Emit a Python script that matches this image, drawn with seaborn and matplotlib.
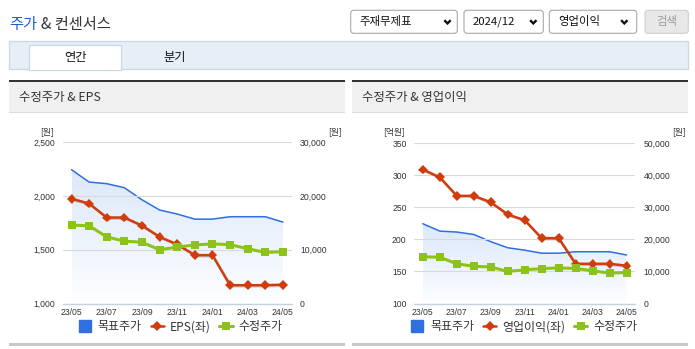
import numpy as np
import pandas as pd
import matplotlib
matplotlib.use("Agg")
import matplotlib.pyplot as plt
import matplotlib.patheffects as pe
from matplotlib.patches import Rectangle, FancyBboxPatch
from matplotlib.lines import Line2D
from matplotlib.colors import LinearSegmentedColormap
import seaborn as sns

# ---------------- data ----------------
months = ["23/05", "23/06", "23/07", "23/08", "23/09", "23/10", "23/11",
          "23/12", "24/01", "24/02", "24/03", "24/04", "24/05"]
target_price = [24900, 22600, 22300, 21550, 19300, 17400, 16650,
                15700, 15700, 16150, 16150, 16150, 15150]          # 목표주가 (원, right)
adj_price = [14600, 14450, 12400, 11600, 11400, 10000, 10500,
             10900, 11100, 10950, 10200, 9500, 9650]                # 수정주가 (원, right)
eps = [1975, 1930, 1800, 1800, 1725, 1620, 1550,
       1450, 1450, 1170, 1170, 1170, 1175]                          # EPS (원, left)
op_income = [309, 297, 268, 268, 258, 239, 230,
             202, 202, 162, 162, 162, 159]                          # 영업이익 (억원, left)

eps_left_ticks = [1000, 1500, 2000, 2500]
eps_right_ticks = [0, 10000, 20000, 30000]
op_left_ticks = [100, 150, 200, 250, 300, 350]
op_right_ticks = [0, 10000, 20000, 30000, 40000, 50000]

legend_labels_eps = ["목표주가", "EPS(좌)", "수정주가"]
legend_labels_op = ["목표주가", "영업이익(좌)", "수정주가"]

# ---------------- style ----------------
sns.set_theme(style="white")
plt.rcParams['font.family'] = ['Noto Sans CJK KR', 'DejaVu Sans']

BLUE = "#2f6fe0"
RED = "#d03c0c"
GREEN = "#8cc21a"
GRID = "#d9d9d9"
AXIS = "#c3d1e3"
TXT = "#333333"
NUM_FONT = "Liberation Sans"

W, H = 695, 349
fig = plt.figure(figsize=(W / 100, H / 100), dpi=100)
fig.patch.set_facecolor("white")

# background "page" axes in pixel coordinates
bg = fig.add_axes([0, 0, 1, 1])
bg.set_xlim(0, W)
bg.set_ylim(H, 0)
bg.axis("off")
bg.set_zorder(-10)

# title (two colours, chained so they never overlap)
t1 = bg.text(9, 25, "주가", color="#1f5fd6", fontsize=11, ha="left", va="center")
bg.annotate("& 컨센서스", xy=(1, 0.5), xycoords=t1, xytext=(4, 0), textcoords="offset pixels",
            color=TXT, fontsize=11, ha="left", va="center")

# dropdowns
def dropdown(x0, x1, text, chev_x):
    bg.add_patch(FancyBboxPatch((x0, 10.3), x1 - x0, 23, boxstyle="round,pad=0,rounding_size=3",
                                facecolor="white", edgecolor="#a9a9a9", lw=0.8))
    bg.text(x0 + 9, 22, text, fontsize=8.2, color="#111", ha="left", va="center")
    bg.plot([chev_x - 3.2, chev_x, chev_x + 3.2], [20.2, 23.4, 20.2], color="#111", lw=1.7,
            solid_capstyle="butt", solid_joinstyle="miter")

dropdown(350.7, 457.3, "주재무제표", 447.5)
dropdown(464.0, 543.3, "2024/12", 533.3)
dropdown(549.3, 636.7, "영업이익", 624.3)
bg.add_patch(FancyBboxPatch((645, 10.3), 43.3, 23, boxstyle="round,pad=0,rounding_size=3",
                            facecolor="#e8e8e8", edgecolor="#cfcfcf", lw=0.8))
bg.text(666.6, 21.8, "검색", fontsize=8.2, color="#9a9a9a", ha="center", va="center")

# tab bar
bg.add_patch(Rectangle((9, 40.7), 679.3, 28.6, facecolor="#e8eef8", edgecolor="#cbd6e6", lw=0.9))
bg.add_patch(Rectangle((29, 45), 92, 24.5, facecolor="white", edgecolor="#cbd6e6", lw=0.9))
bg.add_patch(Rectangle((29.6, 67.8), 90.8, 2.2, facecolor="white", edgecolor="none"))
bg.text(75, 57, "연간", fontsize=8.8, color="#111", ha="center", va="center")
bg.text(175, 57, "분기", fontsize=8.8, color="#111", ha="center", va="center")

# panel headers and bottoms
for x0, title in [(9, "수정주가 & EPS"), (352.3, "수정주가 & 영업이익")]:
    w = 336
    bg.add_patch(Rectangle((x0, 79.8), w, 2.4, facecolor="#333333", edgecolor="none"))
    bg.add_patch(Rectangle((x0, 82.2), w, 29.8, facecolor="#f0f0f0", edgecolor="none"))
    bg.add_patch(Rectangle((x0, 111.6), w, 1.0, facecolor="#dedede", edgecolor="none"))
    bg.text(x0 + 10.2, 98, title, fontsize=8.9, color=TXT, ha="left", va="center")
    bg.add_patch(Rectangle((x0, 343.3), w, 2.2, facecolor="#c8c8c8", edgecolor="none"))

grad_cmap = LinearSegmentedColormap.from_list("g", ["#fdfeff", "#dce8f9"])


def px_axes(x0, x1, ytop, ybot):
    return fig.add_axes([x0 / W, 1 - ybot / H, (x1 - x0) / W, (ybot - ytop) / H])


def fmt(v):
    return f"{v:,}"


def draw_chart(rect, left_vals, left_ticks, right_ticks, labels, unit_left, unit_pos, legend_cx):
    ax = px_axes(*rect)
    ax2 = ax.twinx()
    ax3 = ax.twinx()
    ax2.set_zorder(0)
    ax.set_zorder(1)
    ax3.set_zorder(2)
    ax.patch.set_visible(False)
    ax3.patch.set_visible(False)

    x = np.arange(len(months))
    df = pd.DataFrame({"x": x, "target": target_price, "adj": adj_price, "left": left_vals})

    # target price area with gradient
    poly = ax2.fill_between(df["x"], df["target"], 0, facecolor="none", edgecolor="none")
    grad = np.linspace(0, 1, 256).reshape(-1, 1)
    im = ax2.imshow(grad, extent=[0, len(months) - 1, 0, max(target_price)], origin="lower",
                    aspect="auto", cmap=grad_cmap, zorder=1)
    im.set_clip_path(poly.get_paths()[0], transform=ax2.transData)
    sns.lineplot(data=df, x="x", y="target", ax=ax2, color=BLUE, lw=1.1, zorder=3)

    # left-axis series
    sns.lineplot(data=df, x="x", y="left", ax=ax, color=RED, lw=1.8, marker="D",
                 markersize=5, markeredgewidth=0, zorder=3,
                 path_effects=[pe.SimpleLineShadow(offset=(0.8, -0.8), alpha=0.18,
                                                   shadow_color="black"), pe.Normal()])
    # adjusted price on top
    sns.lineplot(data=df, x="x", y="adj", ax=ax3, color=GREEN, lw=2.2, marker="s",
                 markersize=6.3, markeredgewidth=0, zorder=3)

    for a in (ax, ax2, ax3):
        a.set_xlabel("")
        a.set_ylabel("")
        for s in a.spines.values():
            s.set_visible(False)
        a.set_xlim(-0.5, len(months) - 0.5)

    ax.set_ylim(left_ticks[0], left_ticks[-1])
    ax2.set_ylim(right_ticks[0], right_ticks[-1])
    ax3.set_ylim(right_ticks[0], right_ticks[-1])
    ax3.yaxis.set_visible(False)

    ax.spines["bottom"].set_visible(True)
    ax.spines["bottom"].set_color(AXIS)
    ax.spines["bottom"].set_linewidth(1.0)

    ax.set_yticks(left_ticks, [fmt(v) for v in left_ticks], fontfamily=NUM_FONT)
    ax2.set_yticks(right_ticks, [fmt(v) for v in right_ticks], fontfamily=NUM_FONT)
    ax.set_xticks(range(0, len(months), 2), months[::2], fontfamily=NUM_FONT)
    ax.set_xticks(np.arange(-0.5, len(months), 1), minor=True)

    ax.tick_params(axis="y", length=0, pad=5.5, labelsize=6.2, labelcolor=TXT)
    ax2.tick_params(axis="y", length=0, pad=6, labelsize=6.2, labelcolor=TXT)
    ax.tick_params(axis="x", which="major", length=0, pad=3.2, labelsize=6.2, labelcolor=TXT)
    ax.tick_params(axis="x", which="minor", length=3, width=0.8, color=AXIS, direction="out")

    ax.grid(axis="y", color=GRID, lw=0.8)
    ax.grid(axis="x", visible=False)
    ax2.grid(False)
    ax3.grid(False)

    # unit labels
    bg.text(unit_pos[0], 131.7, unit_left, fontsize=6.3, color=TXT, ha="center", va="center")
    bg.text(unit_pos[1], 131.7, "[원]", fontsize=6.3, color=TXT, ha="center", va="center")

    handles = [
        Line2D([], [], marker="s", color=BLUE, linestyle="None", markersize=8),
        Line2D([], [], color=RED, lw=1.8, marker="D", markersize=5, markeredgewidth=0),
        Line2D([], [], color=GREEN, lw=2.2, marker="s", markersize=6, markeredgewidth=0),
    ]
    leg = fig.legend(handles, labels, loc="center", bbox_to_anchor=(legend_cx / W, 1 - 326.7 / H),
                     ncol=3, frameon=False, fontsize=8.6, handlelength=1.1, handletextpad=0.5,
                     columnspacing=0.75, borderaxespad=0, borderpad=0)
    for t in leg.get_texts():
        t.set_color(TXT)


draw_chart((62.7, 291.7, 142.3, 303.5), eps, eps_left_ticks, eps_right_ticks,
           legend_labels_eps, "[원]", (46.7, 335), 180.5)
draw_chart((414.3, 635.0, 143.3, 303.5), op_income, op_left_ticks, op_right_ticks,
           legend_labels_op, "[억원]", (394, 679), 524)

fig.savefig("out.png", dpi=100, facecolor="white")
